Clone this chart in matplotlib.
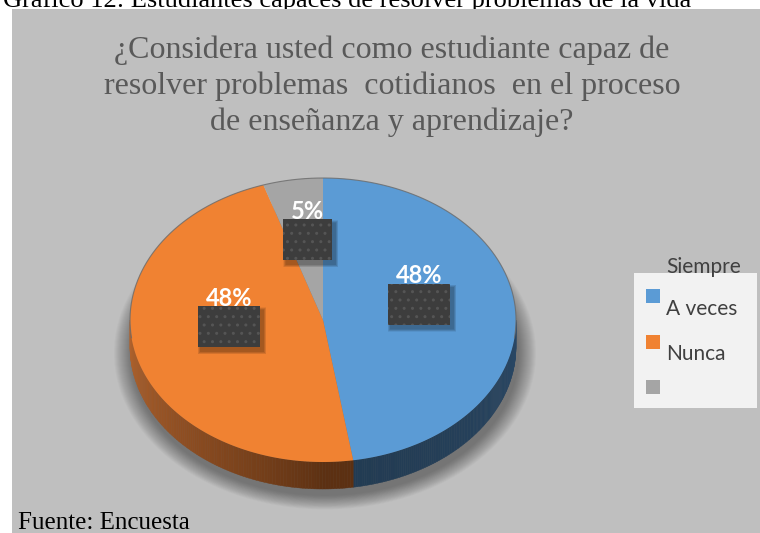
import numpy as np
import matplotlib
matplotlib.use('Agg')
import matplotlib.pyplot as plt
from matplotlib.patches import Polygon, Rectangle, Ellipse
from matplotlib.colors import to_rgb

# ---------------- data ----------------
caption = "Gráfico 12: Estudiantes capaces de resolver problemas de la vida"
title_lines = ["¿Considera usted como estudiante capaz de",
               "resolver problemas  cotidianos  en el proceso",
               "de enseñanza y aprendizaje?"]
source = "Fuente: Encuesta"
slice_values = [47.5, 47.5, 5.0]
slice_labels = ["48%", "48%", "5%"]
legend_title = "Siempre"
legend_labels = ["A veces", "Nunca", ""]
top_colors = ["#5B9BD5", "#F08232", "#A5A5A5"]
side_dark = ["#223B52", "#5C3012", "#6E6E6E"]
side_light = ["#2A4866", "#B2632D", "#8A8A8A"]

# ---------------- figure ----------------
W, H = 760, 533
fig = plt.figure(figsize=(7.6, 5.33), dpi=100)
fig.patch.set_facecolor('white')
ax = fig.add_axes([0, 0, 1, 1])
ax.set_xlim(0, W)
ax.set_ylim(H, 0)
ax.axis('off')

ax.text(3, 7, caption, family='Liberation Serif', fontsize=19,
        va='baseline', ha='left', color='black', zorder=0)
ax.add_patch(Rectangle((12, 9), W - 12, H - 9, fc='#BFBFBF', ec='none', zorder=1))

ax.text(392, 86, "\n".join(title_lines), family='Liberation Serif', fontsize=23,
        color='#595959', ha='center', va='center', linespacing=1.28, zorder=5)
ax.text(18, 529, source, family='Liberation Serif', fontsize=18,
        color='black', ha='left', va='baseline', zorder=5)

# ---------------- pie geometry ----------------
cx, cy, rx, ry, depth = 323, 320, 193, 142, 27
vals = np.array(slice_values, dtype=float)
fr = vals / vals.sum()
cum = np.concatenate([[0], np.cumsum(fr)])


def pt(f, dy=0.0, scale=1.0):
    t = np.deg2rad(90 - 360 * np.asarray(f))
    return cx + scale * rx * np.cos(t), cy - scale * ry * np.sin(t) + dy


# soft shadow
for k in range(18, 0, -1):
    ax.add_patch(Ellipse((cx + 2, cy + depth + 6), 2 * (rx + k), 2 * (ry + k * 0.8),
                         fc='black', ec='none', alpha=0.025, zorder=2))

# side walls (visible for f in [0.25, 0.75])
for i in range(len(vals)):
    a, b = max(cum[i], 0.25), min(cum[i + 1], 0.75)
    if b <= a:
        continue
    fs = np.linspace(a, b, 120)
    dcol = np.array(to_rgb(side_dark[i]))
    lcol = np.array(to_rgb(side_light[i]))
    for j in range(len(fs) - 1):
        f0, f1 = fs[j], fs[j + 1]
        x0, y0 = pt(f0)
        x1, y1 = pt(f1)
        fm = 0.5 * (f0 + f1)
        if i == 0:
            w = np.clip((0.5 - fm) / 0.25, 0, 1) ** 1.5
        else:
            w = np.clip((fm - 0.5) / 0.25, 0, 1) ** 0.8
        col = dcol * (1 - w) + lcol * w
        ax.add_patch(Polygon([(x0, y0), (x1, y1), (x1, y1 + depth), (x0, y0 + depth)],
                             closed=True, fc=col, ec=col, lw=0.3, zorder=3))

# top faces
for i in range(len(vals)):
    fs = np.linspace(cum[i], cum[i + 1], 200)
    xs, ys = pt(fs)
    verts = [(cx, cy)] + list(zip(xs, ys))
    ax.add_patch(Polygon(verts, closed=True, fc=top_colors[i], ec='none', zorder=4))

# thin rim on the back edge
fs = np.linspace(-0.27, 0.27, 200)
xs, ys = pt(fs)
ax.plot(xs, ys, color='#6A6A6A', lw=0.8, alpha=0.8, zorder=4.5)

# ---------------- data labels ----------------
renderer = fig.canvas.get_renderer()
for i in range(len(vals)):
    fm = 0.5 * (cum[i] + cum[i + 1])
    bx, by = pt(fm, dy=-10, scale=0.5)
    txt = ax.text(bx, by - 20.5 - 8, slice_labels[i], family='Lato', fontweight='bold',
                  fontsize=17, color='white', ha='center', va='center', zorder=8)
    bb = txt.get_window_extent(renderer)
    bw = bb.width + 16
    bh = 41
    for k in range(6, 0, -1):
        ax.add_patch(Rectangle((bx - bw / 2 + 3 - k * 0.5, by - bh / 2 + 4 - k * 0.5),
                               bw + k, bh + k, fc='black', ec='none', alpha=0.06, zorder=6))
    ax.add_patch(Rectangle((bx - bw / 2, by - bh / 2), bw, bh, fc='#3D3D3D',
                           ec='#555555', lw=0, hatch='..', zorder=7))

# ---------------- legend ----------------
ax.add_patch(Rectangle((634, 273), 123, 135, fc='#F2F2F2', ec='none', zorder=5))
ax.text(666, 267, legend_title, family='Lato', fontsize=15, color='#404040',
        ha='left', va='center', zorder=6)
for i, lab in enumerate(legend_labels):
    y0 = 289 + 45.5 * i
    ax.add_patch(Rectangle((646, y0), 14, 14, fc=top_colors[i], ec='none', zorder=6))
    if lab:
        ax.text(666, y0 + 20, lab, family='Lato', fontsize=15, color='#404040',
                ha='left', va='center', zorder=6)

fig.savefig('out.png', dpi=100)
